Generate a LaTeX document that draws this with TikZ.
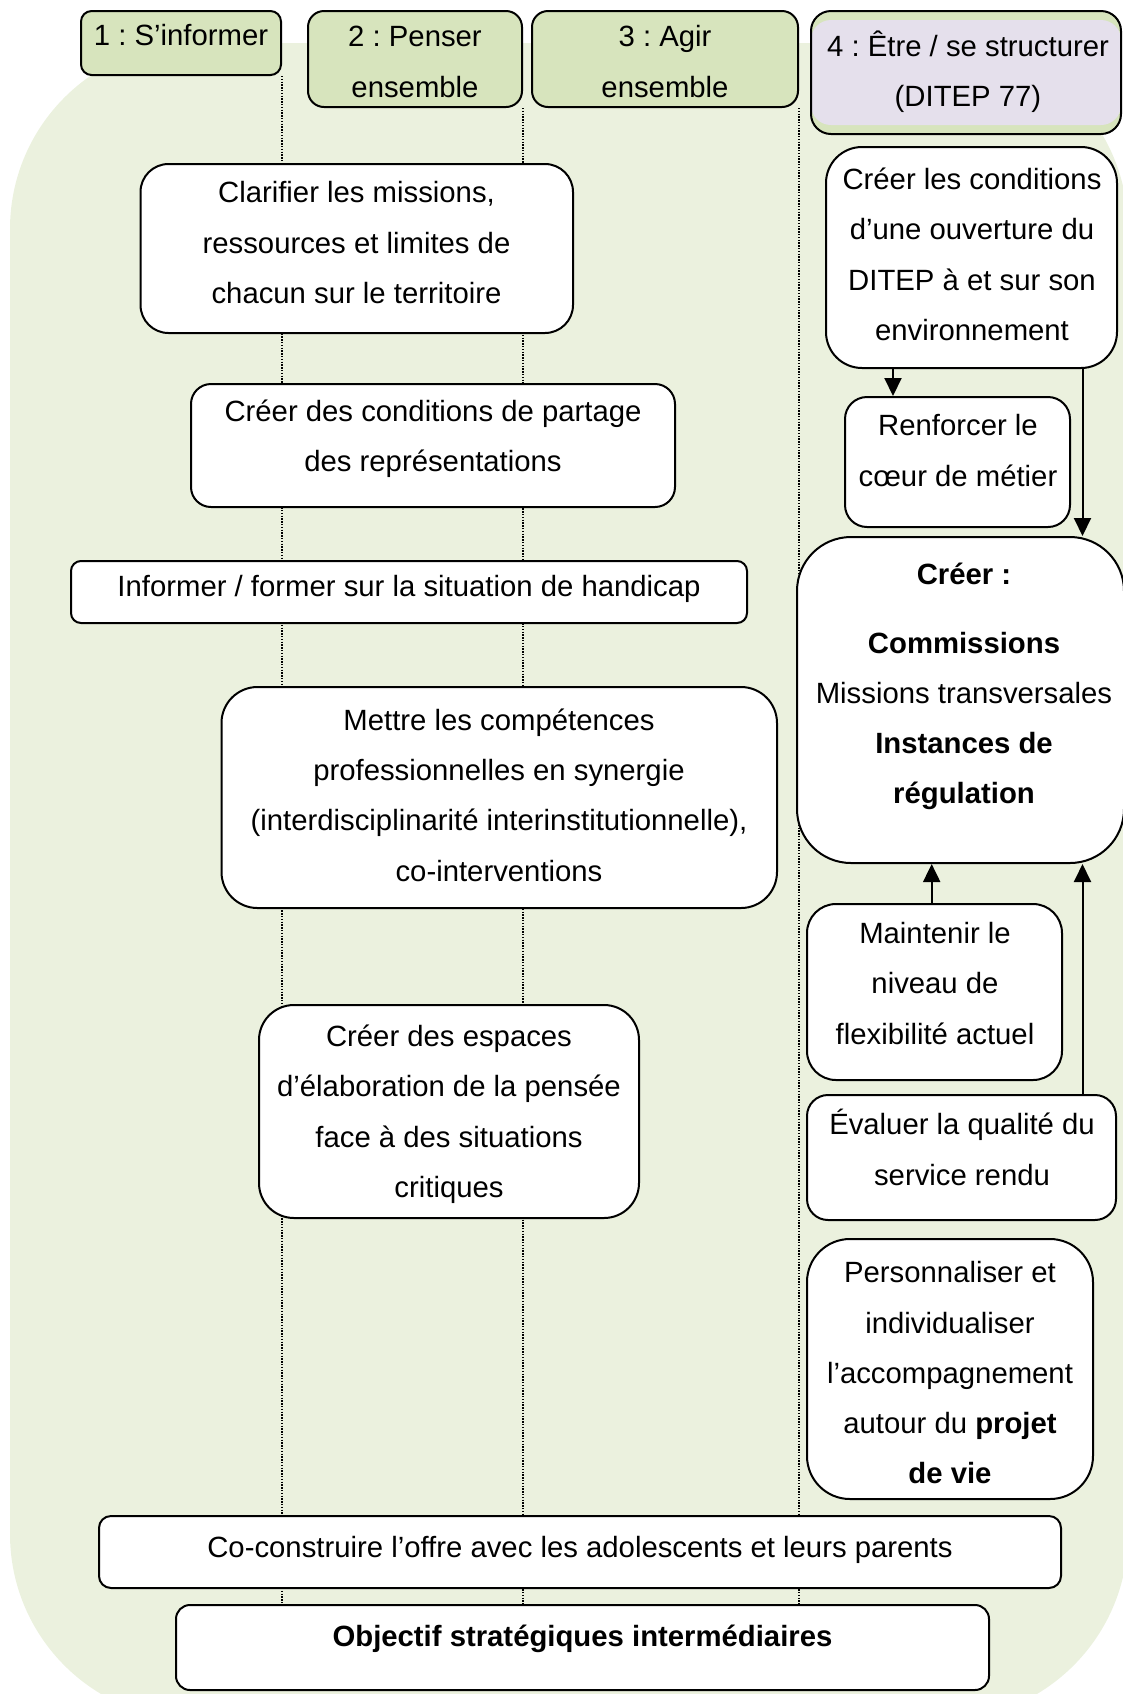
\documentclass[tikz,border=0pt]{standalone}
\usepackage{fontspec}
\setmainfont{Liberation Sans}
\usetikzlibrary{arrows.meta,fit}
\definecolor{bggreen}{RGB}{235,241,222}
\definecolor{hdrgreen}{RGB}{215,228,189}
\definecolor{hdrpurple}{RGB}{229,224,236}
\pgfdeclarelayer{back}
\pgfsetlayers{back,main}
\frenchspacing

\begin{document}
\begin{tikzpicture}[x=0.5pt,y=-0.5pt,
  box/.style={draw=black, line width=1pt, fill=white, inner sep=0pt},
  hdr/.style={box, fill=hdrgreen},
  txt/.style={align=center, inner sep=0pt, yshift=-1pt, font=\fontsize{14.65}{25.15}\selectfont},
  guide/.style={line width=0.65pt, dash pattern=on 0.65pt off 0.75pt},
  arr/.style={line width=1pt, -{Triangle[width=8.5pt,length=9pt]}}
]
\useasboundingbox (0,0) rectangle (1123,1694);

% column headers
\node[hdr, rounded corners=5.3pt, fit={(81,11) (281,75)}] (h1) {};
\node[txt] (h1T) at (181,33.4) {\strut 1 : S’informer};
\node[hdr, rounded corners=8pt, fit={(308,11) (522,107)}] (h2) {};
\node[txt] (h2T) at (415,59.9) {\strut 2 : Penser\\\strut ensemble};
\node[hdr, rounded corners=8pt, fit={(532,11) (798,107)}] (h3) {};
\node[txt] (h3T) at (665,59.9) {\strut 3 : Agir\\\strut ensemble};
\node[hdr, rounded corners=10pt, fit={(811,11) (1121,134)},
  path picture={\fill[hdrpurple]
    ([yshift=-4.5pt]path picture bounding box.north west) rectangle
    ([yshift=4.5pt]path picture bounding box.south east);}] (h4) {};
\node[txt] (h4T) at (968,69.5) {\strut 4 : Être / se structurer\\\strut (DITEP 77)};

% left and middle actions
\node[box, rounded corners=14pt, fit={(140.5,164) (573,333)}] (a) {};
\node[txt] (aT) at (356.5,241) {\strut Clarifier les missions,\\\strut ressources et limites de\\\strut chacun sur le territoire};
\node[box, rounded corners=10pt, fit={(191,384) (675,507)}] (b) {};
\node[txt] (bT) at (433,434.3) {\strut Créer des conditions de partage\\\strut des représentations};
\node[box, rounded corners=5pt, fit={(71,561) (747,623)}] (c) {};
\node[txt] (cT) at (409,584.7) {\strut Informer / former sur la situation de handicap};
\node[box, rounded corners=18pt, fit={(221.5,687) (777,908)}] (d) {};
\node[txt] (dT) at (499,793.7) {\strut Mettre les compétences\\\strut professionnelles en synergie\\\strut (interdisciplinarité interinstitutionnelle),\\\strut co-interventions};
\node[box, rounded corners=17.5pt, fit={(259,1005) (639,1218)}] (e) {};
\node[txt] (eT) at (449,1110) {\strut Créer des espaces\\\strut d’élaboration de la pensée\\\strut face à des situations\\\strut critiques};
\node[box, rounded corners=6pt, fit={(99,1516) (1061,1588)}] (f) {};
\node[txt] (fT) at (580,1545.7) {\strut Co-construire l’offre avec les adolescents et leurs parents};
\node[box, rounded corners=7pt, fit={(176,1605) (989,1690)}] (g) {};
\node[txt] (gT) at (582.5,1634.7) {\strut\textbf{Objectif stratégiques intermédiaires}};

% structuring column
\node[box, rounded corners=18pt, fit={(826,147) (1117,368)}] (h) {};
\node[txt] (hT) at (972,253) {\strut Créer les conditions\\\strut d’une ouverture du\\\strut DITEP à et sur son\\\strut environnement};
\node[box, rounded corners=11pt, fit={(845,397) (1070,527)}] (i) {};
\node[txt] (iT) at (958,449) {\strut Renforcer le\\\strut cœur de métier};
\node[box, rounded corners=27pt, fit={(797,537) (1124,863)}] (j) {};
\node[txt] (jT) at (964,682.3) {\strut\textbf{Créer :}\\[9pt]\strut\textbf{Commissions}\\\strut Missions transversales\\\strut\textbf{Instances de}\\\strut\textbf{régulation}};
\node[box, rounded corners=14.5pt, fit={(807,904) (1062,1080)}] (k) {};
\node[txt] (kT) at (935,981.7) {\strut Maintenir le\\\strut niveau de\\\strut flexibilité actuel};
\node[box, rounded corners=10.5pt, fit={(807,1095) (1116,1220)}] (l) {};
\node[txt] (lT) at (962,1148) {\strut Évaluer la qualité du\\\strut service rendu};
\node[box, rounded corners=21.5pt, fit={(807,1239) (1093,1499)}] (m) {};
\node[txt] (mT) at (950,1371.3) {\strut Personnaliser et\\\strut individualiser\\\strut l’accompagnement\\\strut autour du \textbf{projet}\\\strut\textbf{de vie}};

% arrows in the structuring column
\coordinate (xin) at (893,0);
\coordinate (xout) at (1082.5,0);
\coordinate (xmid) at (931.7,0);
\draw[arr] (h.south -| xin) -- (i.north -| xin);
\draw[arr] (h.south -| xout) -- (j.north -| xout);
\draw[arr] (k.north -| xmid) -- (j.south -| xmid);
\draw[arr] (l.north -| xout) -- (j.south -| xout);

% backdrop and column guides
\begin{pgfonlayer}{back}
  \fill[bggreen, rounded corners=93pt] (10,43) rectangle (1128,1720);
  \draw[guide] (h1.south east) -- (h1.south east |- g.north);
  \draw[guide] (h2.south east) -- (h2.south east |- g.north);
  \draw[guide] (h3.south east) -- (h3.south east |- g.north);
\end{pgfonlayer}
\end{tikzpicture}
\end{document}
